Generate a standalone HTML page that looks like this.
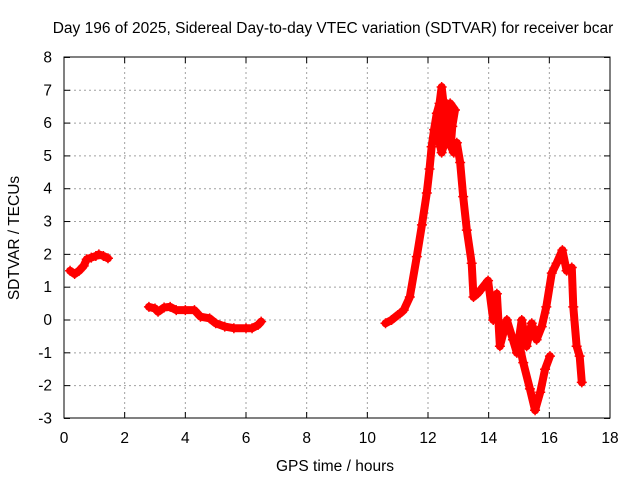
<!DOCTYPE html>
<html><head><meta charset="utf-8"><style>
body{margin:0;background:#fff;width:640px;height:480px;overflow:hidden}
text{font-family:"Liberation Sans",sans-serif;font-size:15.5px;fill:#000}
</style></head><body>
<svg id="c" width="640" height="480" xmlns="http://www.w3.org/2000/svg">
<rect x="64" y="57" width="546" height="361" fill="none" stroke="#000"/>
<g id="grid"></g>
<g id="ticks"></g>
<g id="marks"></g>
<text x="333" y="33" text-anchor="middle">Day 196 of 2025, Sidereal Day-to-day VTEC variation (SDTVAR) for receiver bcar</text>
<text x="335" y="471" text-anchor="middle">GPS time / hours</text>
<text transform="translate(19,238) rotate(-90)" text-anchor="middle">SDTVAR / TECUs</text>
</svg>
<script>
const xTicks=[0,2,4,6,8,10,12,14,16,18];
const yTicks=[-3,-2,-1,0,1,2,3,4,5,6,7,8];
const seg1T=[0.2,0.35,0.5,0.65,0.75,0.9,1.05,1.15,1.3,1.45];
const seg1V=[1.5,1.4,1.5,1.65,1.85,1.9,1.95,2.0,1.95,1.88];
const seg2T=[2.8,3.0,3.1,3.3,3.5,3.7,4.0,4.3,4.5,4.8,5.0,5.3,5.6,6.0,6.2,6.4,6.5];
const seg2V=[0.4,0.35,0.25,0.38,0.4,0.3,0.3,0.3,0.1,0.05,-0.1,-0.2,-0.25,-0.25,-0.25,-0.15,-0.05];
const seg3T=[10.6,10.8,11.0,11.08,11.2,11.4,11.63,11.8,11.96,12.05,12.12,12.2,12.29,12.38,12.45,12.5,12.45,12.38,12.45,12.55,12.62,12.73,12.89,12.8,12.75,12.85,12.95,13.06,13.16,13.28,13.44,13.5,13.65,13.98,14.15,14.27,14.37,14.6,14.8,14.93,15.09,15.25,15.42,15.58,15.75,15.9,16.08,16.24,16.43,16.57,16.74,16.79,16.9,17.0,17.07];
const seg3V=[-0.1,0.0,0.15,0.2,0.3,0.7,1.93,2.9,3.87,4.6,5.28,5.8,6.3,6.6,7.1,6.7,6.0,5.4,5.1,5.4,5.8,6.6,6.4,5.9,5.3,5.1,5.4,4.8,3.76,2.74,1.73,0.7,0.82,1.2,0.0,0.8,-0.8,0.0,-0.6,-1.0,0.0,-0.8,-0.1,-0.6,-0.2,0.4,1.43,1.73,2.13,1.5,1.6,0.4,-0.8,-1.1,-1.9];
const seg4T=[15.0,15.14,15.36,15.53,15.7,15.86,16.02];
const seg4V=[-0.7,-1.3,-2.1,-2.75,-2.2,-1.5,-1.1];
const X=h=>64+h*546/18, Y=v=>320-v*361/11;
const ns="http://www.w3.org/2000/svg";
const g=document.getElementById('grid'),tk=document.getElementById('ticks'),mk=document.getElementById('marks');
function el(t,a,p){const e=document.createElementNS(ns,t);for(const k in a)e.setAttribute(k,a[k]);p.appendChild(e);return e;}
xTicks.forEach(t=>{const x=X(t);
 if(t>0&&t<18){const l=el('line',{x1:x,x2:x,y1:57,y2:418,stroke:'#a0a0a0','stroke-dasharray':'2,3'},g);
 
 }
 el('line',{x1:x,x2:x,y1:418,y2:412,stroke:'#000'},tk);el('line',{x1:x,x2:x,y1:57,y2:63,stroke:'#000'},tk);
 const s=el('text',{x:x,y:443,'text-anchor':'middle'},tk);s.textContent=t;
 
 });
yTicks.forEach(t=>{const y=Y(t);
 if(t>-3&&t<8){const l=el('line',{x1:64,x2:610,y1:y,y2:y,stroke:'#a0a0a0','stroke-dasharray':'2,3'},g);
 
 }
 el('line',{x1:64,x2:70,y1:y,y2:y,stroke:'#000'},tk);el('line',{x1:610,x2:604,y1:y,y2:y,stroke:'#000'},tk);
 const s=el('text',{x:52,y:y+5,'text-anchor':'end'},tk);s.textContent=t;
 
 });
[[seg1T,seg1V],[seg2T,seg2V],[seg3T,seg3V],[seg4T,seg4V]].forEach(([T,V])=>{
 const pts=T.map((t,i)=>X(t)+','+Y(V[i])).join(' ');
 const pl=el('polyline',{points:pts,fill:'none',stroke:'#f00','stroke-width':8,'stroke-linejoin':'round','stroke-linecap':'round'},mk);
 
 
 T.forEach((t,i)=>{const x=X(t),y=Y(V[i]);
  const p=el('path',{d:`M${x-5},${y}h10M${x},${y-5}v10`,stroke:'#f00','stroke-width':1.5},mk);
  
  });
});
</script>
</body></html>
